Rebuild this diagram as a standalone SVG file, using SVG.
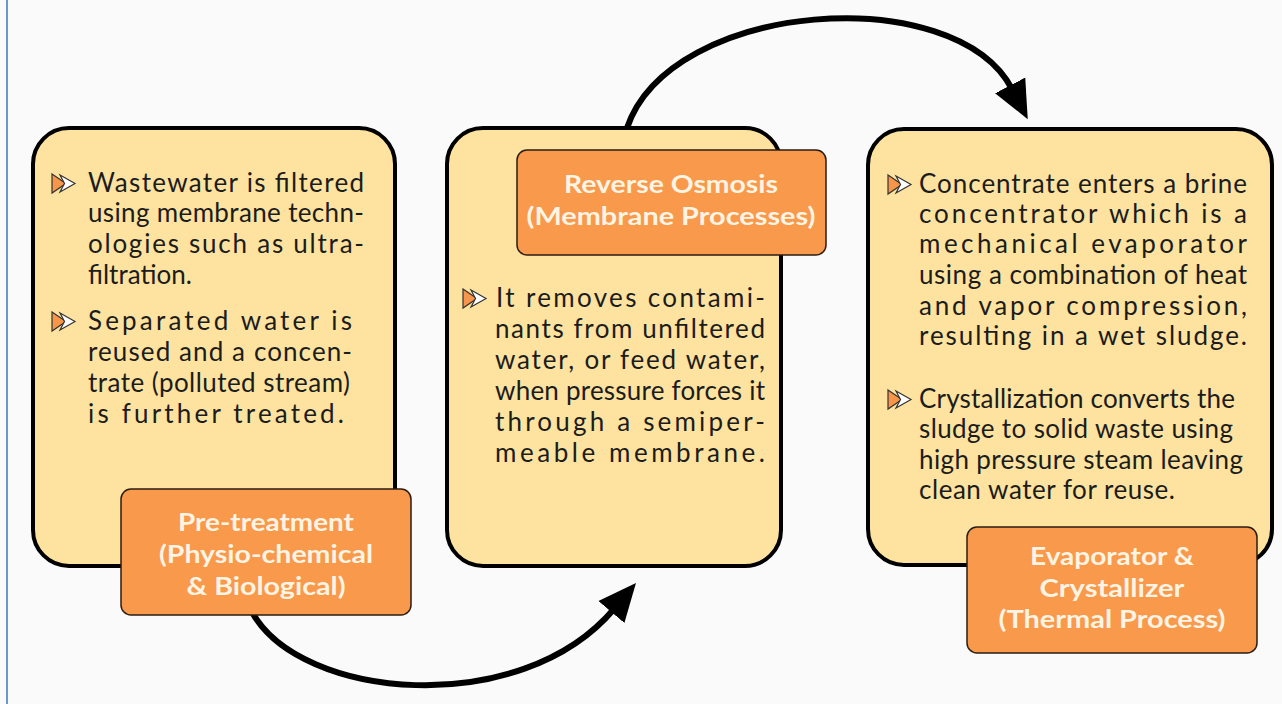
<svg xmlns="http://www.w3.org/2000/svg" width="1282" height="704" viewBox="0 0 1282 704">
<style>
.bg{fill:#fafafa}
.edge{stroke:#6a97cf;stroke-width:2}
.box{fill:#fde39f;stroke:#000;stroke-width:4}
.lbl{fill:#f9994c;stroke:#2b1d12;stroke-width:1.5}
.body{font-family:Lato,"Liberation Sans",sans-serif;font-size:26px;fill:#1c1c1c}
.lt{font-family:Lato,"Liberation Sans",sans-serif;font-weight:700;font-size:25px;fill:#fdf4e4;text-anchor:middle}
.conn{fill:none;stroke:#000;stroke-width:6}
</style>
<defs>
<marker id="ah" markerUnits="userSpaceOnUse" markerWidth="40" markerHeight="40" viewBox="0 0 40 40" refX="4" refY="20" orient="auto">
<path d="M0,3 L38,20 L0,37 Z" fill="#000"/>
</marker>
<g id="bullet">
<polygon points="0,0 14,9.5 0,19" fill="#f7954a" stroke="#333" stroke-width="1.2"/>
<polygon points="8,1 23,9.5 8,18 12.5,9.5" fill="#fff" stroke="#333" stroke-width="1.2"/>
</g>
</defs>
<rect class="bg" x="0" y="0" width="1282" height="704"/>
<line class="edge" x1="7" y1="0" x2="7" y2="704"/>

<g id="connectors">
<path class="conn" d="M 252 612 C 300 700, 520 720, 614 609" marker-end="url(#ah)"/>
<path class="conn" d="M 627 128 C 670 0, 955 -20, 1012 89" marker-end="url(#ah)"/>
</g>

<g id="pretreatment">
<rect class="box" x="33" y="128" width="362" height="438" rx="36"/>
<use href="#bullet" x="52" y="174"/>
<text class="body" x="88" y="192" textLength="276" lengthAdjust="spacing">Wastewater is filtered</text>
<text class="body" x="88" y="222" textLength="276" lengthAdjust="spacing">using membrane techn-</text>
<text class="body" x="88" y="253" textLength="276" lengthAdjust="spacing">ologies such as ultra-</text>
<text class="body" x="88" y="284" textLength="104" lengthAdjust="spacing">filtration.</text>
<use href="#bullet" x="52" y="312"/>
<text class="body" x="88" y="330" textLength="264" lengthAdjust="spacing">Separated water is</text>
<text class="body" x="88" y="361" textLength="264" lengthAdjust="spacing">reused and a concen-</text>
<text class="body" x="88" y="392" textLength="262" lengthAdjust="spacing">trate (polluted stream)</text>
<text class="body" x="88" y="423" textLength="256" lengthAdjust="spacing">is further treated.</text>
<rect class="lbl" x="121" y="489" width="290" height="126" rx="10"/>
<text class="lt" x="266" y="531" textLength="176" lengthAdjust="spacingAndGlyphs">Pre-treatment</text>
<text class="lt" x="266" y="563" textLength="214" lengthAdjust="spacingAndGlyphs">(Physio-chemical</text>
<text class="lt" x="266" y="595" textLength="159" lengthAdjust="spacingAndGlyphs">&amp; Biological)</text>
</g>

<g id="reverse-osmosis">
<rect class="box" x="447" y="128" width="334" height="438" rx="36"/>
<rect class="lbl" x="517" y="150" width="309" height="105" rx="10"/>
<text class="lt" x="671" y="193" textLength="214" lengthAdjust="spacingAndGlyphs">Reverse Osmosis</text>
<text class="lt" x="671" y="225" textLength="289" lengthAdjust="spacingAndGlyphs">(Membrane Processes)</text>
<use href="#bullet" x="463" y="289"/>
<text class="body" x="496" y="307" textLength="269" lengthAdjust="spacing">It removes contami-</text>
<text class="body" x="495" y="338" textLength="270" lengthAdjust="spacing">nants from unfiltered</text>
<text class="body" x="495" y="369" textLength="270" lengthAdjust="spacing">water, or feed water,</text>
<text class="body" x="495" y="400" textLength="270" lengthAdjust="spacing">when pressure forces it</text>
<text class="body" x="495" y="431" textLength="270" lengthAdjust="spacing">through a semiper-</text>
<text class="body" x="495" y="462" textLength="270" lengthAdjust="spacing">meable membrane.</text>
</g>

<g id="evaporator-crystallizer">
<rect class="box" x="868" y="129" width="404" height="436" rx="36"/>
<use href="#bullet" x="888" y="175"/>
<text class="body" x="919" y="193" textLength="328" lengthAdjust="spacing">Concentrate enters a brine</text>
<text class="body" x="919" y="223" textLength="328" lengthAdjust="spacing">concentrator which is a</text>
<text class="body" x="919" y="253" textLength="328" lengthAdjust="spacing">mechanical evaporator</text>
<text class="body" x="919" y="284" textLength="328" lengthAdjust="spacing">using a combination of heat</text>
<text class="body" x="919" y="315" textLength="328" lengthAdjust="spacing">and vapor compression,</text>
<text class="body" x="919" y="345" textLength="328" lengthAdjust="spacing">resulting in a wet sludge.</text>
<use href="#bullet" x="888" y="390"/>
<text class="body" x="919" y="408" textLength="316" lengthAdjust="spacing">Crystallization converts the</text>
<text class="body" x="919" y="438" textLength="314" lengthAdjust="spacing">sludge to solid waste using</text>
<text class="body" x="919" y="469" textLength="324" lengthAdjust="spacing">high pressure steam leaving</text>
<text class="body" x="919" y="499" textLength="256" lengthAdjust="spacing">clean water for reuse.</text>
<rect class="lbl" x="967" y="527" width="290" height="126" rx="10"/>
<text class="lt" x="1112" y="565" textLength="164" lengthAdjust="spacingAndGlyphs">Evaporator &amp;</text>
<text class="lt" x="1112" y="597" textLength="145" lengthAdjust="spacingAndGlyphs">Crystallizer</text>
<text class="lt" x="1112" y="628" textLength="227" lengthAdjust="spacingAndGlyphs">(Thermal Process)</text>
</g>
</svg>
